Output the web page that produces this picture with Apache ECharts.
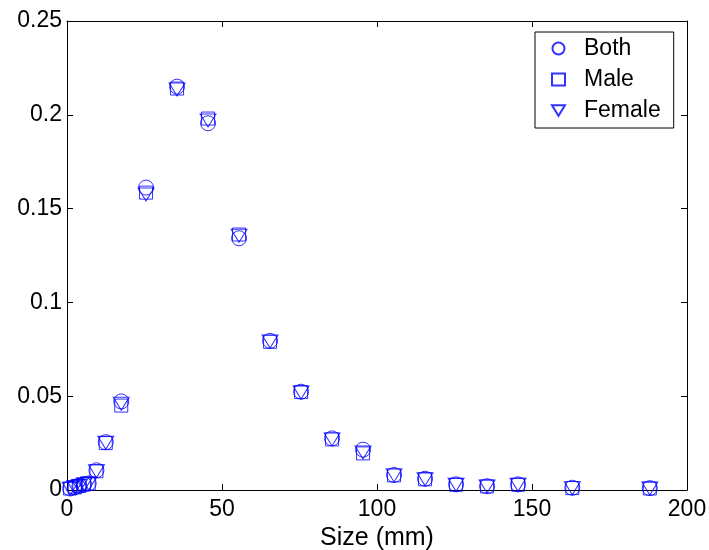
<!DOCTYPE html>
<html>
<head>
<meta charset="utf-8">
<script src="https://cdn.jsdelivr.net/npm/echarts@6/dist/echarts.min.js"></script>
<style>
  html, body { margin: 0; padding: 0; background: #fff; }
  #chart { width: 709px; height: 550px; }
</style>
</head>
<body>
<div id="chart"></div>
<script>
// Size bins (mm) and relative frequency for each group
const sizes = [1, 2.5, 4, 5.5, 7, 9.5, 12.5, 17.5, 25.5, 35.5, 45.5, 55.5, 65.5, 75.5, 85.5, 95.5, 105.5, 115.5, 125.5, 135.5, 145.5, 163, 188];
const both   = [0.0008, 0.0015, 0.0022, 0.0030, 0.0035, 0.0105, 0.0255, 0.0472, 0.1612, 0.2150, 0.1955, 0.1342, 0.0795, 0.0524, 0.0275, 0.0215, 0.0080, 0.0060, 0.0030, 0.0020, 0.0030, 0.0012, 0.0010];
const male   = [0.0008, 0.0014, 0.0022, 0.0030, 0.0034, 0.0100, 0.0250, 0.0450, 0.1585, 0.2140, 0.1980, 0.1362, 0.0790, 0.0522, 0.0270, 0.0195, 0.0078, 0.0057, 0.0028, 0.0019, 0.0028, 0.0010, 0.0008];
const female = [0.0007, 0.0015, 0.0021, 0.0030, 0.0035, 0.0100, 0.0252, 0.0460, 0.1575, 0.2135, 0.1970, 0.1355, 0.0792, 0.0520, 0.0270, 0.0200, 0.0078, 0.0057, 0.0028, 0.0019, 0.0028, 0.0010, 0.0008];
const xTicks = [0, 50, 100, 150, 200];
const yTicks = [0, 0.05, 0.1, 0.15, 0.2, 0.25];

const FONT = '"Liberation Sans", Arial, Helvetica, sans-serif';
const BLUE = '#0000ff';
const pairs = ys => sizes.map((x, i) => [x, ys[i]]);
const hollow = { color: 'rgba(0,0,0,0)', borderColor: BLUE, borderWidth: 1 };
const downTriangle = 'path://M0,0 L16,0 L8,13 Z';

const axisCommon = {
  type: 'value',
  axisLine: { show: true, onZero: false, lineStyle: { color: '#000', width: 1 } },
  axisTick: { show: true, inside: true, length: 6, lineStyle: { color: '#000', width: 1 } },
  splitLine: { show: false }
};

const chart = echarts.init(document.getElementById('chart'), null, { renderer: 'canvas' });
chart.setOption({
  backgroundColor: '#fff',
  animation: false,
  textStyle: { fontFamily: FONT },
  grid: { left: 67, right: 22, top: 21, bottom: 60, containLabel: false, outerBoundsMode: 'none' },
  xAxis: [
    Object.assign({}, axisCommon, {
      position: 'bottom', min: xTicks[0], max: xTicks[xTicks.length - 1], interval: 50,
      name: 'Size (mm)', nameLocation: 'middle', nameGap: 27,
      nameTextStyle: { fontFamily: FONT, fontSize: 25, color: '#000' },
      axisLabel: { show: true, margin: 8, fontFamily: FONT, fontSize: 23, color: '#000' }
    }),
    Object.assign({}, axisCommon, {
      position: 'top', min: xTicks[0], max: xTicks[xTicks.length - 1], interval: 50,
      axisLabel: { show: false }
    })
  ],
  yAxis: [
    Object.assign({}, axisCommon, {
      position: 'left', min: yTicks[0], max: yTicks[yTicks.length - 1], interval: 0.05,
      axisLabel: { show: true, margin: 5, fontFamily: FONT, fontSize: 23, color: '#000',
                   formatter: v => String(+v.toFixed(2)) }
    }),
    Object.assign({}, axisCommon, {
      position: 'right', min: yTicks[0], max: yTicks[yTicks.length - 1], interval: 0.05,
      axisLabel: { show: false }
    })
  ],
  legend: {
    orient: 'vertical',
    left: 535, top: 32,
    padding: [5, 13, 6, 16],
    itemGap: 8,
    itemWidth: 13, itemHeight: 12,
    borderColor: '#000', borderWidth: 1, backgroundColor: '#fff',
    textStyle: { fontFamily: FONT, fontSize: 23, color: '#000', lineHeight: 20, padding: [0, 0, 0, 14] },
    data: ['Both', 'Male', 'Female']
  },
  series: [
    { name: 'Both', type: 'scatter', data: pairs(both), symbol: 'circle', symbolSize: 15,
      itemStyle: hollow, emphasis: { disabled: true }, z: 3 },
    { name: 'Male', type: 'scatter', data: pairs(male), symbol: 'rect', symbolSize: 13,
      itemStyle: hollow, emphasis: { disabled: true }, z: 3 },
    { name: 'Female', type: 'scatter', data: pairs(female), symbol: downTriangle, symbolSize: [16, 13],
      itemStyle: hollow, emphasis: { disabled: true }, z: 3 }
  ]
});
</script>
</body>
</html>
